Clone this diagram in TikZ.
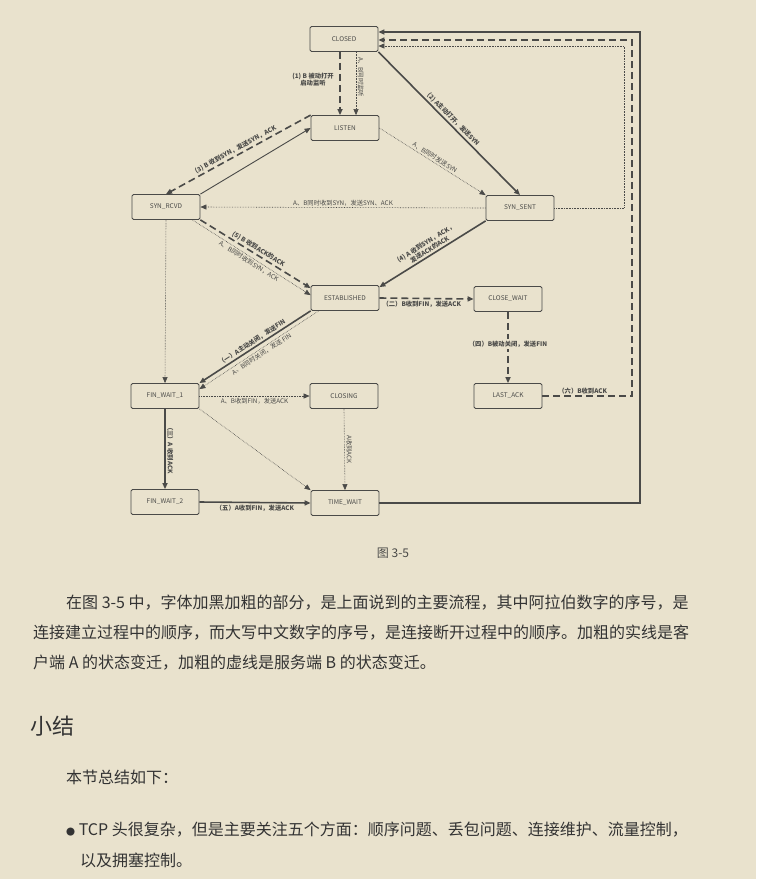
\documentclass[tikz,border=0pt]{standalone}
\usepackage{fontspec}
\setmainfont{Noto Sans CJK SC}
\usetikzlibrary{arrows.meta}
\definecolor{bg}{HTML}{E9E2CD}
\definecolor{ink}{HTML}{4A4A48}
\begin{document}
\begin{tikzpicture}[x=1pt,y=-1pt,
  st/.style={draw=ink,line width=0.8pt,rounded corners=1.5pt,minimum width=68pt,minimum height=25pt,font=\fontsize{6.5}{7}\selectfont,text=ink,inner sep=1pt},
  lb/.style={font=\fontsize{6.3}{7.5}\selectfont\bfseries,text=ink,inner sep=1.5pt},
  la/.style={font=\fontsize{6.3}{7.5}\selectfont,text=ink,inner sep=1.5pt},
  arr/.style={-{Triangle[length=6pt,width=5pt]},draw=ink},
  A/.style={arr,line width=1.6pt},
  B/.style={arr,line width=1.6pt,dash pattern=on 7pt off 4pt},
  D/.style={arr,line width=0.6pt,densely dotted},
  T/.style={arr,line width=0.9pt},
  body/.style={font=\fontsize{16}{18}\selectfont,text=black!80,anchor=west,inner sep=0pt}]
\fill[bg] (0,0) rectangle (756,879);
\node[st] (closed) at (344,39) {CLOSED};
\node[st] (listen) at (345,128) {LISTEN};
\node[st] (rcvd) at (166,207) {SYN\_RCVD};
\node[st] (sent) at (520,208) {SYN\_SENT};
\node[st] (est) at (345,298) {ESTABLISHED};
\node[st] (cw) at (508,299) {CLOSE\_WAIT};
\node[st] (fw1) at (165,396) {FIN\_WAIT\_1};
\node[st] (cl) at (344,396) {CLOSING};
\node[st] (la) at (508,396) {LAST\_ACK};
\node[st] (fw2) at (165,502) {FIN\_WAIT\_2};
\node[st] (tw) at (345,503) {TIME\_WAIT};
% connection setup
\draw[B] (closed.south -| 340,0) -- node[lb,left,align=center,xshift=-4pt,yshift=4pt]{(1) B 被动打开\\启动监听} (listen.north -| 340,0);
\draw[D] (closed.south -| 356,0) -- node[la,rotate=-90,anchor=south,pos=0.4]{A、B同时监听} (listen.north -| 356,0);
\draw[A] (closed.south east) -- node[lb,sloped,above]{(2) A主动打开，发送SYN} (sent.north);
\draw[B] (listen.north west) -- node[lb,sloped,above,pos=0.5]{(3) B 收到SYN，发送SYN，ACK} (rcvd.north);
\draw[T] (rcvd.north east) -- (listen.west);
\draw[D] (listen.east) -- node[la,sloped,above]{A、B同时发送SYN} (sent.north west);
\draw[D] (sent.west) -- node[la,above]{A、B同时收到SYN，发送SYN、ACK} (rcvd.east);
\draw[B] (rcvd.south east) -- node[lb,sloped,above]{(5) B 收到ACK的ACK} ([yshift=-3pt]est.north west);
\draw[D] ([xshift=-8pt]rcvd.south east) -- node[la,sloped,below]{A、B同时收到SYN，ACK} ([yshift=-10pt]est.north west);
\draw[A] (sent.south west) -- node[lb,sloped,above,align=center]{(4) A 收到SYN，ACK，\\发送ACK的ACK} ([yshift=-2pt]est.north east);
% termination
\draw[B] (est.east) -- node[lb,below,pos=0.45]{（二）B收到FIN，发送ACK} (cw.west);
\draw[A] (est.south west) -- node[lb,sloped,above]{（一）A主动关闭，发送FIN} (fw1.north east);
\draw[D] ([xshift=8pt]est.south west) -- node[la,sloped,below]{A、B同时关闭，发送 FIN} ([yshift=-6pt]fw1.north east);
\draw[D] (rcvd.south) -- (fw1.north);
\draw[D] (fw1.east) -- node[la,below]{A、B收到FIN，发送ACK} (cl.west);
\draw[D] (fw1.south east) -- (tw.north west);
\draw[A] (fw1.south) -- node[lb,rotate=-90,anchor=south]{（三）A 收到ACK} (fw2.north);
\draw[D] (cl.south) -- node[la,rotate=-90,anchor=south]{A收到ACK} (tw.north);
\draw[B] (cw.south) -- node[lb,fill=bg,pos=0.45]{（四）B被动关闭，发送FIN} (la.north);
\draw[A] (fw2.east) -- node[lb,below]{（五）A收到FIN，发送ACK} (tw.west);
\draw[A] (tw.east) -- (640,503) -- (640,32) -- ([yshift=7pt]closed.east);
\draw[B] (la.east) -- node[lb,above,pos=0.45]{（六）B收到ACK} (632,396) -- (632,40) -- ([yshift=-1pt]closed.east);
\draw[D] (sent.east) -- (624,208) -- (624,46) -- ([yshift=-7pt]closed.east);
% page text
\node[font=\fontsize{12}{14}\selectfont,text=ink] (cap) at (393,553) {图 3-5};
\node[body] (p1) at (66,603) {在图 3-5 中，字体加黑加粗的部分，是上面说到的主要流程，其中阿拉伯数字的序号，是};
\node[body] (p2) at (33,633) {连接建立过程中的顺序，而大写中文数字的序号，是连接断开过程中的顺序。加粗的实线是客};
\node[body] (p3) at (33,663) {户端 A 的状态变迁，加粗的虚线是服务端 B 的状态变迁。};
\node[body,font=\fontsize{22}{24}\selectfont] (h) at (30,726) {小结};
\node[body] (p4) at (66,777) {本节总结如下：};
\node[body] (p5) at (66,830) {{\fontsize{9}{9}\selectfont ●} TCP 头很复杂，但是主要关注五个方面：顺序问题、丢包问题、连接维护、流量控制，};
\node[body] (p6) at (80,860) {以及拥塞控制。};
\end{tikzpicture}
\end{document}
